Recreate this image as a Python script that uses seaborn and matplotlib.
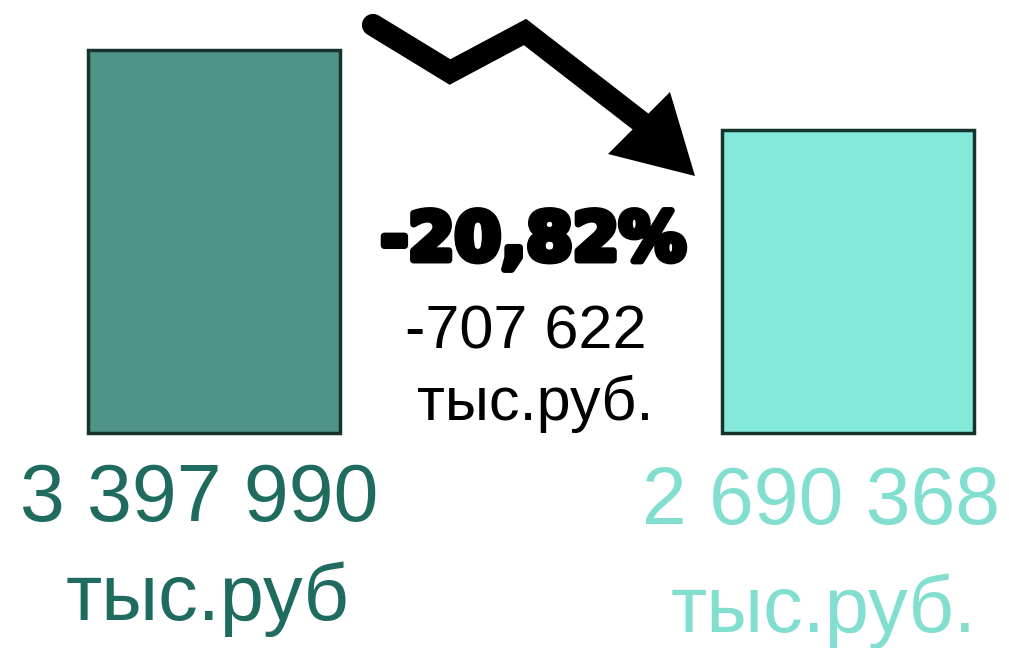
import numpy as np
import pandas as pd
import matplotlib
matplotlib.use("Agg")
import matplotlib.pyplot as plt
import matplotlib.patheffects as pe
from matplotlib.patches import Polygon
import seaborn as sns

# ---- data ----
periods = ["before", "after"]
values = [3397990, 2690368]
bar_colors = ["#4f9486", "#84e8da"]
text_colors = ["#1f6b60", "#82dfd0"]
unit_labels = ["тыс.руб", "тыс.руб."]
center_unit = "тыс.руб."

def fmt_space(v):
    s = f"{abs(int(v)):,}".replace(",", " ")
    return ("-" if v < 0 else "") + s

diff = values[1] - values[0]
pct = diff / values[0] * 100
pct_label = f"{pct:.2f}%".replace(".", ",")

sns.set_theme(style="white")
plt.rcParams['font.family'] = ['Liberation Sans', 'DejaVu Sans']

W, H = 1009, 648
fig = plt.figure(figsize=(W / 100, H / 100), dpi=100)
ax = fig.add_axes([0, 0, 1, 1])

df = pd.DataFrame({"period": periods, "value": values})
sns.barplot(data=df, x="period", y="value", hue="period", order=periods,
            hue_order=periods, palette=bar_colors, width=0.397,
            edgecolor="#17332e", linewidth=2.5, legend=False, ax=ax,
            saturation=1)

# map data to pixel layout
x0_px, x1_px = 214, 848
sx = (x1_px - x0_px)
ax.set_xlim(-x0_px / sx, 1 + (W - x1_px) / sx)
base_px = 433
top_px = 50
sy = (base_px - top_px) / values[0]
ax.set_ylim(-(H - base_px) / sy, base_px / sy)
ax.axis("off")

def fx(px):
    return px / W

def fy(py):
    return 1 - py / H

# value labels
val_pos = [(199, 521), (821, 524)]
unit_pos = [(208, 620), (824, 632)]
for i in range(2):
    ax.text(fx(val_pos[i][0]), fy(val_pos[i][1]), fmt_space(values[i]),
            transform=ax.transAxes, ha="center", va="baseline",
            fontsize=58, color=text_colors[i])
    ax.text(fx(unit_pos[i][0]), fy(unit_pos[i][1]), unit_labels[i],
            transform=ax.transAxes, ha="center", va="baseline",
            fontsize=57, color=text_colors[i])

# center annotation
ax.text(fx(533), fy(260), pct_label, transform=ax.transAxes, ha="center",
        va="baseline", fontsize=48, fontweight="bold", color="black",
        family=["DejaVu Sans"],
        path_effects=[pe.withStroke(linewidth=5, foreground="black")])
ax.text(fx(526), fy(348), fmt_space(diff), transform=ax.transAxes,
        ha="center", va="baseline", fontsize=44, color="black")
ax.text(fx(535), fy(420), center_unit, transform=ax.transAxes,
        ha="center", va="baseline", fontsize=44, color="black")

# decorative down arrow
pts = [(373, 25), (450, 72), (525, 32), (645, 125)]
ax.plot([fx(p[0]) for p in pts], [fy(p[1]) for p in pts],
        transform=ax.transAxes, color="black", lw=16,
        solid_capstyle="round", solid_joinstyle="miter")
head = [(695, 176), (670, 92), (608, 154)]
ax.add_patch(Polygon([(fx(p[0]), fy(p[1])) for p in head], closed=True,
                     transform=ax.transAxes, color="black", lw=0))

fig.savefig("out.png", dpi=100, facecolor="white")
